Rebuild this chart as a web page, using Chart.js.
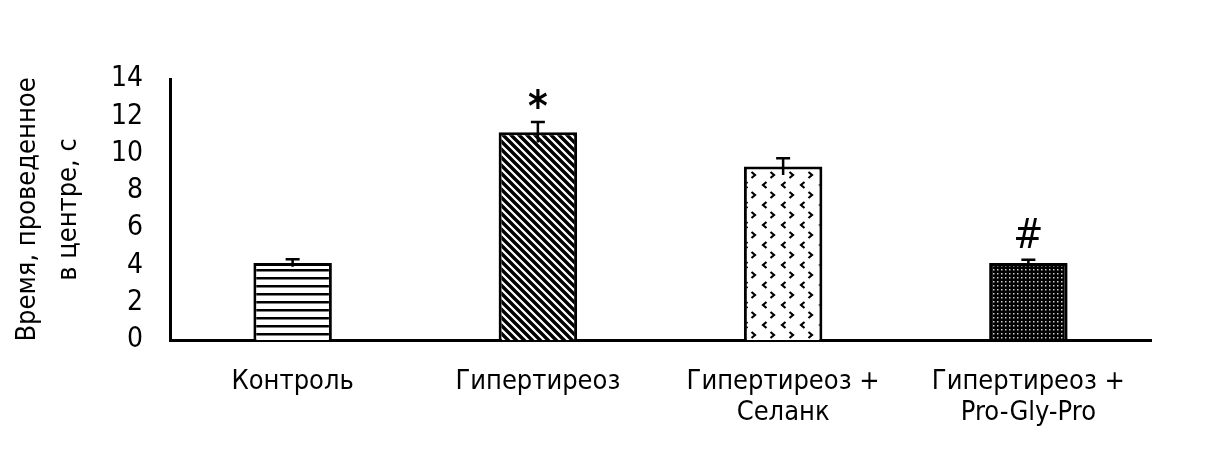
<!DOCTYPE html>
<html>
<head>
<meta charset="utf-8">
<script src="https://cdn.jsdelivr.net/npm/chart.js@4.4.1/dist/chart.umd.min.js"></script>
<style>
  html, body { margin: 0; padding: 0; background: #fff; }
  #wrap { width: 1218px; height: 453px; }
</style>
</head>
<body>
<div id="wrap"><canvas id="chart" width="1218" height="453"></canvas></div>
<script>
// data
const categories = [
  'Контроль',
  'Гипертиреоз',
  ['Гипертиреоз +', 'Селанк'],
  ['Гипертиреоз +', 'Pro-Gly-Pro']
];
const meanValues = [4.13, 11.15, 9.3, 4.13];
const errorValues = [0.2, 0.55, 0.45, 0.17];
const markTexts = ['', '*', '', '#'];
const yTicks = [0, 2, 4, 6, 8, 10, 12, 14];
const yTitle = ['Время, проведенное', 'в центре, с'];

const FONT = "'Liberation Sans Narrow', 'DejaVu Sans Condensed', 'Roboto', sans-serif";

// fill patterns
const makePattern = (w, h, draw) => {
  const c = document.createElement('canvas');
  c.width = w; c.height = h;
  const g = c.getContext('2d');
  draw(g, w, h);
  return g.createPattern(c, 'repeat');
};

const hStripes = makePattern(8, 8, (g, w, h) => {
  g.fillStyle = '#fff'; g.fillRect(0, 0, w, h);
  g.fillStyle = '#000'; g.fillRect(0, 5, w, 2.5);
});

const diagStripes = makePattern(8, 8, (g, w, h) => {
  g.fillStyle = '#fff'; g.fillRect(0, 0, w, h);
  g.strokeStyle = '#000'; g.lineWidth = 3.4;
  g.beginPath();
  for (let k = -2; k <= 2; k++) {
    g.moveTo(k * 8 - 2, -2);
    g.lineTo(k * 8 + 10, 10);
  }
  g.stroke();
});

const chevrons = makePattern(19, 20, (g, w, h) => {
  g.fillStyle = '#fff'; g.fillRect(0, 0, w, h);
  g.strokeStyle = '#000'; g.lineWidth = 2.2;
  const mark = (x, y, dir) => {
    g.beginPath();
    g.moveTo(x + 2.5 * dir, y - 3);
    g.lineTo(x - 1 * dir, y);
    g.lineTo(x + 2.5 * dir, y + 3);
    g.stroke();
  };
  mark(4, 5, 1);
  mark(13, 15, -1);
});

const dots = makePattern(4, 4, (g, w, h) => {
  g.fillStyle = '#000'; g.fillRect(0, 0, w, h);
  g.fillStyle = '#ccc'; g.fillRect(1, 1, 1.5, 1.5);
});

const fills = [hStripes, diagStripes, chevrons, dots];

// error bars and significance marks
const errorBarPlugin = {
  id: 'errorBars',
  afterDatasetsDraw(chart) {
    const ctx = chart.ctx;
    const meta = chart.getDatasetMeta(0);
    const y = chart.scales.y;
    ctx.save();
    ctx.strokeStyle = '#000';
    ctx.lineWidth = 2.5;
    meta.data.forEach((bar, i) => {
      const x = bar.x;
      const top = y.getPixelForValue(meanValues[i] + errorValues[i]);
      const bottom = y.getPixelForValue(meanValues[i] - errorValues[i]);
      ctx.beginPath();
      ctx.moveTo(x, top);
      ctx.lineTo(x, bottom);
      ctx.moveTo(x - 7, top);
      ctx.lineTo(x + 7, top);
      ctx.stroke();
      ctx.fillStyle = '#000';
      ctx.textAlign = 'center';
      ctx.textBaseline = 'bottom';
      if (markTexts[i] === '*') {
        ctx.font = 'bold 42px ' + FONT;
        ctx.fillText('*', x, top + 9);
      } else if (markTexts[i]) {
        ctx.font = '40px ' + FONT;
        ctx.fillText(markTexts[i], x, top - 2);
      }
    });
    ctx.restore();
  }
};

new Chart(document.getElementById('chart'), {
  type: 'bar',
  data: {
    labels: categories,
    datasets: [{
      data: meanValues,
      backgroundColor: fills,
      borderColor: '#000',
      borderWidth: 3,
      borderSkipped: 'bottom',
      barPercentage: 0.32,
      categoryPercentage: 1
    }]
  },
  options: {
    responsive: false,
    animation: false,
    layout: { padding: { top: 79, right: 67, left: 0, bottom: 0 } },
    plugins: {
      legend: { display: false },
      tooltip: { enabled: false }
    },
    scales: {
      x: {
        grid: { display: false, drawTicks: false },
        border: { display: true, color: '#000', width: 3 },
        ticks: {
          color: '#000',
          font: { family: FONT, size: 27, lineHeight: 1.15 },
          padding: 26,
          maxRotation: 0,
          autoSkip: false
        },
        afterFit: (scale) => { scale.height = 113; }
      },
      y: {
        min: 0,
        max: 14,
        afterBuildTicks: (scale) => { scale.ticks = yTicks.map(v => ({ value: v })); },
        grid: { display: false, drawTicks: false },
        border: { display: true, color: '#000', width: 3 },
        ticks: {
          color: '#000',
          font: { family: FONT, size: 28 },
          padding: 27
        },
        title: {
          display: true,
          text: yTitle,
          color: '#000',
          font: { family: FONT, size: 27, lineHeight: 1.5 },
          padding: { top: 8, bottom: 0 }
        },
        afterFit: (scale) => { scale.width = 170; }
      }
    }
  },
  plugins: [errorBarPlugin]
});
</script>
</body>
</html>
